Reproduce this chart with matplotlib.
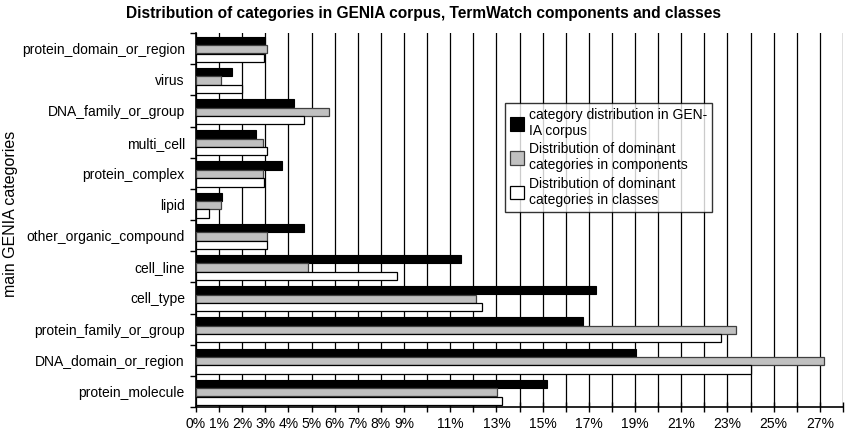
import matplotlib
matplotlib.use("Agg")
import matplotlib.pyplot as plt
import numpy as np
from matplotlib.ticker import FixedLocator

plt.rcParams['font.family'] = ['Liberation Sans', 'DejaVu Sans']

categories = ["protein_domain_or_region", "virus", "DNA_family_or_group", "multi_cell",
              "protein_complex", "lipid", "other_organic_compound", "cell_line",
              "cell_type", "protein_family_or_group", "DNA_domain_or_region", "protein_molecule"]
genia_corpus = [3.0, 1.55, 4.23, 2.58, 3.71, 1.13, 4.69, 11.45, 17.3, 16.73, 19.02, 15.18]
components = [3.07, 1.1, 5.74, 2.9, 2.9, 1.1, 3.07, 4.84, 12.13, 23.38, 27.16, 13.04]
classes = [2.96, 2.0, 4.69, 3.07, 2.96, 0.58, 3.07, 8.7, 12.38, 22.71, 24.02, 13.25]

legend_labels = ["category distribution in GEN-\nIA corpus",
                 "Distribution of dominant\ncategories in components",
                 "Distribution of dominant\ncategories in classes"]
x_ticks = list(range(0, 29))
x_labels_shown = [0, 1, 2, 3, 4, 5, 6, 7, 8, 9, 11, 13, 15, 17, 19, 21, 23, 25, 27]

fig = plt.figure(figsize=(8.46, 4.37), dpi=100)
ax = fig.add_axes([0.2317, 0.0686, 0.9965 - 0.2317, 0.9245 - 0.0686])

y = np.arange(len(categories))
h = 0.265
ax.barh(y - 0.245, genia_corpus, height=h, color='black', edgecolor='black', linewidth=0.8,
        zorder=3, label=legend_labels[0])
ax.barh(y + 0.025, components, height=h, color='#c0c0c0', edgecolor='#404040', linewidth=0.9,
        zorder=3, label=legend_labels[1])
ax.barh(y + 0.295, classes, height=h, color='white', edgecolor='black', linewidth=0.9,
        zorder=3, label=legend_labels[2])

ax.set_xlim(0, 28)
ax.set_ylim(len(categories) - 0.5, -0.5)

ax.xaxis.set_major_locator(FixedLocator(x_ticks))
ax.set_xticklabels([f"{t}%" if t in x_labels_shown else "" for t in x_ticks], fontsize=10)
ax.tick_params(axis='x', direction='inout', length=7, width=1, pad=4)
ax.grid(axis='x', color='black', linewidth=0.9, zorder=0)
ax.set_axisbelow(True)

ax.set_yticks(y)
ax.set_yticklabels(categories, fontsize=10)
ax.yaxis.set_minor_locator(FixedLocator(np.arange(-0.5, len(categories), 1.0)))
ax.tick_params(axis='y', which='major', length=0, pad=8)
ax.tick_params(axis='y', which='minor', length=4, width=1, direction='out')

for s in ['top', 'right']:
    ax.spines[s].set_visible(False)
ax.spines['left'].set_linewidth(1.2)
ax.spines['bottom'].set_linewidth(1.2)

fig.text(11 / 846, 1 - 214 / 437, "main GENIA categories", rotation=90,
         ha='center', va='center', fontsize=11.5)
fig.text(0.5, 0.970, "Distribution of categories in GENIA corpus, TermWatch components and classes",
         ha='center', va='center', fontsize=11.2, fontweight='bold')

leg = ax.legend(loc='upper left', bbox_to_anchor=((505 - 196) / 647, (407 - 103) / 374),
                fontsize=10, frameon=True, fancybox=False, edgecolor='black',
                handlelength=1.0, handleheight=1.15, handletextpad=0.35, borderpad=0.35,
                labelspacing=0.3, borderaxespad=0)
leg.get_frame().set_linewidth(1.0)
leg.set_zorder(5)

fig.savefig("out.png", dpi=100)
